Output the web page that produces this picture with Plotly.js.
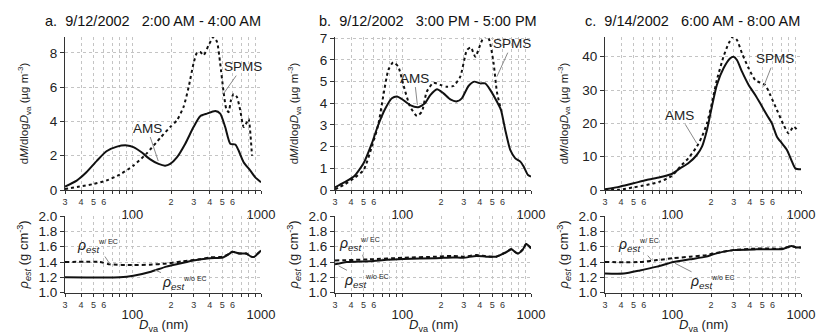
<!DOCTYPE html>
<html><head><meta charset="utf-8">
<script src="https://cdn.plot.ly/plotly-3.0.1.min.js"></script>
<style>html,body{margin:0;padding:0;background:#fff}#chart{width:817px;height:333px}</style>
</head><body><div id="chart"></div>
<script>
// ---- data (diameter Dva in nm) ----
const X_AMS_A = [30,37,44,53,63,76,91,102,118,137,160,180,197,222,258,299,337,380,441,482,527,577,631,670,733,826,903,1000];
const Y_AMS_A = [0.2,0.55,1.03,1.7,2.26,2.53,2.6,2.5,2.2,1.8,1.52,1.42,1.52,1.9,2.7,3.67,4.3,4.45,4.6,4.45,3.67,2.7,2.65,2.3,1.62,1.13,0.74,0.45];
const X_SPMS_A = [30,39,50,63,80,102,130,165,197,222,250,274,299,318,337,358,392,428,455,482,512,537,560,584,612,650,690,733,778,801,851];
const Y_SPMS_A = [0.06,0.2,0.35,0.55,0.9,1.42,2.15,3.04,3.67,4.06,4.84,6.0,7.37,8.0,8.05,7.86,8.44,8.93,8.64,7.37,5.71,4.74,4.54,5.23,5.6,5.42,4.64,3.67,3.96,4.15,2.0];

const X_AMS_B = [30,35,42,50,58,65,74,83,91,99,115,133,150,165,186,209,236,266,290,327,362,403,441,482,543,584,631,690,755,826,877,948,1000];
const Y_AMS_B = [0.12,0.34,0.62,1.23,2.15,3.0,3.77,4.23,4.31,4.2,3.92,3.82,4.0,4.38,4.65,4.46,4.18,4.09,4.23,4.8,5.0,4.92,4.92,4.62,4.08,3.7,2.77,1.85,1.46,1.31,1.08,0.69,0.62];
const X_SPMS_B = [30,35,42,50,58,65,71,78,85,93,102,115,130,142,155,175,197,222,250,282,318,341,369,403,433,468,512,543,584];
const Y_SPMS_B = [0.03,0.23,0.54,0.92,2.0,3.0,4.31,5.54,5.89,5.69,4.85,3.85,3.42,3.62,4.54,4.95,4.85,4.77,4.8,5.23,6.46,6.58,6.15,6.69,7.1,7.0,5.85,4.54,3.7];

const X_AMS_C = [30,39,50,63,80,99,115,133,155,170,186,203,222,250,282,299,318,348,392,441,482,543,594,650,711,778,851,903,1000];
const Y_AMS_C = [0.2,1.0,2.0,3.0,3.8,4.8,6.5,8.0,10.5,13.0,18.0,25,31.5,36.5,39.5,40,39,35.5,31.5,28.5,26,22.5,20,16,14,12,8.5,6.5,6.2];
const X_SPMS_C = [30,39,50,63,80,99,115,133,155,170,186,203,222,250,274,296,318,348,392,441,482,527,577,650,733,801,877,958];
const Y_SPMS_C = [0.1,0.1,0.8,1.5,2.5,4.2,7.0,9.5,13.0,16.0,20,26,33,40,44,46,45,41,36.5,33,32.2,31.5,28.5,24,19.5,17,19,17.5];

const X_RHO_WO_A = [30,80,102,137,184,234,297,399,506,570,598,682,768,840,891,945,1000];
const Y_RHO_WO_A = [1.2,1.2,1.22,1.27,1.34,1.38,1.42,1.45,1.46,1.51,1.535,1.51,1.51,1.47,1.47,1.51,1.55];
const X_RHO_W_A = [30,56,67,102,137,184,248,334,399,506,570,598,682,768,840,891,945,1000];
const Y_RHO_W_A = [1.4,1.4,1.37,1.36,1.365,1.38,1.41,1.435,1.46,1.47,1.51,1.535,1.51,1.51,1.47,1.47,1.51,1.55];

const X_RHO_WO_B = [30,37,56,76,102,184,248,297,376,450,537,643,703,791,865,918,1000];
const Y_RHO_WO_B = [1.37,1.4,1.41,1.43,1.44,1.45,1.46,1.455,1.48,1.47,1.47,1.53,1.565,1.51,1.565,1.635,1.58];
const X_RHO_W_B = [30,56,102,184,248,297,376,450,537,643,703,791,865,918,1000];
const Y_RHO_W_B = [1.42,1.435,1.455,1.47,1.48,1.47,1.49,1.475,1.47,1.53,1.565,1.51,1.565,1.635,1.58];

const X_RHO_WO_C = [30,42,56,76,102,137,184,207,297,450,605,723,840,918,1000];
const Y_RHO_WO_C = [1.25,1.25,1.29,1.34,1.40,1.435,1.47,1.50,1.555,1.565,1.565,1.57,1.61,1.59,1.59];
const X_RHO_W_C = [30,56,76,102,137,184,207,297,450,605,723,840,918,1000];
const Y_RHO_W_C = [1.40,1.40,1.425,1.45,1.47,1.49,1.51,1.555,1.575,1.575,1.575,1.61,1.59,1.59];

const TICK_VALS = [30,40,50,60,70,80,90,100,200,300,400,500,600,700,800,900,1000];
const TICK_TEXT = ['3','4','5','6','','','','','2','3','4','5','6','','','',''];
const MAJOR_VALS = [100,1000];
const MAJOR_TEXT = ['100','1000'];
const PANEL_TITLES = ['a.\u00a0 9/12/2002 \u00a0 2:00 AM - 4:00 AM','b.\u00a0 9/12/2002 \u00a0 3:00 PM - 5:00 PM','c.\u00a0 9/14/2002 \u00a0 6:00 AM - 8:00 AM'];
const X_TITLE = '<i>D</i><sub>va</sub> (nm)';

// ---- layout geometry ----
const W = 817, H = 333;
const FONT = 'Liberation Sans, Arial, sans-serif';
const colsPx = [[65,261],[335,531],[605,801]];
const topPx = [37,190], botPx = [216,292.7];
const dom = p => [p[0]/W, p[1]/W];
const ydom = p => [1 - p[1]/H, 1 - p[0]/H];
const XR = [Math.log10(30), 3];
const GRID = '#c4c4c4', AX = '#333';

const data = [];
function line(x, y, xa, ya, dash) {
  data.push({type:'scatter', mode:'lines', x, y, xaxis:xa, yaxis:ya, showlegend:false, hoverinfo:'skip',
    line:{color:'#111', width:2, dash:dash, shape:'spline', smoothing:0.6}});
}
line(X_AMS_A, Y_AMS_A, 'x', 'y', 'solid');
line(X_SPMS_A, Y_SPMS_A, 'x', 'y', 'dot');
line(X_AMS_B, Y_AMS_B, 'x2', 'y2', 'solid');
line(X_SPMS_B, Y_SPMS_B, 'x2', 'y2', 'dot');
line(X_AMS_C, Y_AMS_C, 'x3', 'y3', 'solid');
line(X_SPMS_C, Y_SPMS_C, 'x3', 'y3', 'dot');
line(X_RHO_WO_A, Y_RHO_WO_A, 'x4', 'y4', 'solid');
line(X_RHO_W_A, Y_RHO_W_A, 'x4', 'y4', '4px,3px');
line(X_RHO_WO_B, Y_RHO_WO_B, 'x5', 'y5', 'solid');
line(X_RHO_W_B, Y_RHO_W_B, 'x5', 'y5', '4px,3px');
line(X_RHO_WO_C, Y_RHO_WO_C, 'x6', 'y6', 'solid');
line(X_RHO_W_C, Y_RHO_W_C, 'x6', 'y6', '4px,3px');
// empty helper traces so the overlay (major-label) axes are drawn
const overlayPairs = [['x7','y'],['x8','y2'],['x9','y3'],['x10','y4'],['x11','y5'],['x12','y6']];
overlayPairs.forEach(p => data.push({type:'scatter', x:[], y:[], xaxis:p[0], yaxis:p[1], showlegend:false, hoverinfo:'skip'}));

const layout = {width:W, height:H, margin:{l:0,r:0,t:0,b:0}, paper_bgcolor:'#fff', plot_bgcolor:'#fff',
  font:{family:FONT, color:'#222', size:13}, annotations:[]};

function xMain(i, anchor) {
  return {type:'log', domain:dom(colsPx[i]), anchor, range:XR, tickvals:TICK_VALS, ticktext:TICK_TEXT,
    tickfont:{size:9, color:'#333'}, ticks:'outside', ticklen:3, tickcolor:AX, tickwidth:1,
    showgrid:true, gridcolor:GRID, griddash:'dot', gridwidth:1, showline:true, linecolor:AX, linewidth:1, zeroline:false};
}
function xOver(base, anchor, len) {
  return {type:'log', overlaying:base, anchor, range:XR, tickvals:MAJOR_VALS, ticktext:MAJOR_TEXT,
    tickfont:{size:13, color:'#222'}, ticks:'outside', ticklen:len, tickcolor:'rgba(0,0,0,0)',
    showgrid:false, showline:false, zeroline:false};
}
function yAx(px, anchor, range, dtick, title, standoff, fmt, tsize) {
  return {domain:ydom(px), anchor, range, dtick, tick0:range[0], tickformat:fmt||'', tickfont:{size:13.5, color:'#222'},
    ticks:'outside', ticklen:4, tickcolor:AX, showgrid:true, gridcolor:GRID, griddash:'dot', gridwidth:1,
    showline:true, linecolor:AX, linewidth:1, zeroline:false,
    title:{text:title, font:{size:tsize}, standoff}};
}
const topTitle = 'd<i>M</i>/dlog<i>D</i><sub>va</sub> (µg m<sup>-3</sup>)';
const botTitle = '<i>ρ</i><sub><i>est</i></sub> (g cm<sup>-3</sup>)';

layout.xaxis = xMain(0,'y'); layout.xaxis2 = xMain(1,'y2'); layout.xaxis3 = xMain(2,'y3');
layout.xaxis4 = xMain(0,'y4'); layout.xaxis5 = xMain(1,'y5'); layout.xaxis6 = xMain(2,'y6');
layout.xaxis7 = xOver('x','y',12); layout.xaxis8 = xOver('x2','y2',12); layout.xaxis9 = xOver('x3','y3',12);
layout.xaxis10 = xOver('x4','y4',10); layout.xaxis11 = xOver('x5','y5',10); layout.xaxis12 = xOver('x6','y6',10);
layout.yaxis = yAx(topPx,'x',[0,8.92],2,topTitle,18,'',11.5);
layout.yaxis2 = yAx(topPx,'x2',[0,7.06],1,topTitle,18,'',11.5);
layout.yaxis3 = yAx(topPx,'x3',[0,45.9],10,topTitle,11,'',11.5);
layout.yaxis4 = yAx(botPx,'x4',[1,2],0.2,botTitle,6,'.1f',13);
layout.yaxis5 = yAx(botPx,'x5',[1,2],0.2,botTitle,6,'.1f',13);
layout.yaxis6 = yAx(botPx,'x6',[1,2],0.2,botTitle,6,'.1f',13);

// panel titles and x-axis titles
const titleX = [43,317,583];
PANEL_TITLES.forEach((t,i) => layout.annotations.push({xref:'paper', yref:'paper', x:titleX[i]/W, y:1-21/H,
  xanchor:'left', yanchor:'middle', text:t, showarrow:false, font:{size:14.5, color:'#111'}}));
colsPx.forEach(c => layout.annotations.push({xref:'paper', yref:'paper', x:(c[0]+c[1])/2/W, y:1-325/H,
  xanchor:'center', yanchor:'middle', text:X_TITLE, showarrow:false, font:{size:13, color:'#222'}}));

// curve labels with leader lines
function lab(xa, ya, x, y, text, ax, ay, size) {
  layout.annotations.push({xref:xa, yref:ya, x:Math.log10(x), y, text, ax, ay, showarrow:true, arrowhead:0,
    arrowwidth:1, arrowcolor:'#8a8a8a', standoff:0, font:{size:size||13.5, color:'#222'}});
}
lab('x','y',159,1.69,'AMS',-11,-33);
lab('x','y',512,5.62,'SPMS',19,-27);
lab('x2','y2',131,3.92,'AMS',-3,-27);
lab('x2','y2',543,5.23,'SPMS',15,-33);
lab('x3','y3',155,14.0,'AMS',-17,-28);
lab('x3','y3',512,31.0,'SPMS',11,-28);
const rW = '<i>ρ</i><sub><i>est</i></sub><sup><span style="font-size:7px">w/ EC</span></sup>';
const rWO = '<i>ρ</i><sub><i>est</i></sub><sup><span style="font-size:7px">w/o EC</span></sup>';
lab('x4','y4',67,1.374,rW,-12,-18,14);
lab('x4','y4',150,1.296,rWO,30,13,14);
lab('x5','y5',50,1.449,rW,-4,-14,14);
lab('x5','y5',32,1.35,rWO,28,15,14);
lab('x6','y6',69,1.426,rW,-13,-15,14);
lab('x6','y6',105,1.383,rWO,37,19,14);

Plotly.newPlot('chart', data, layout, {staticPlot:true});
</script></body></html>
